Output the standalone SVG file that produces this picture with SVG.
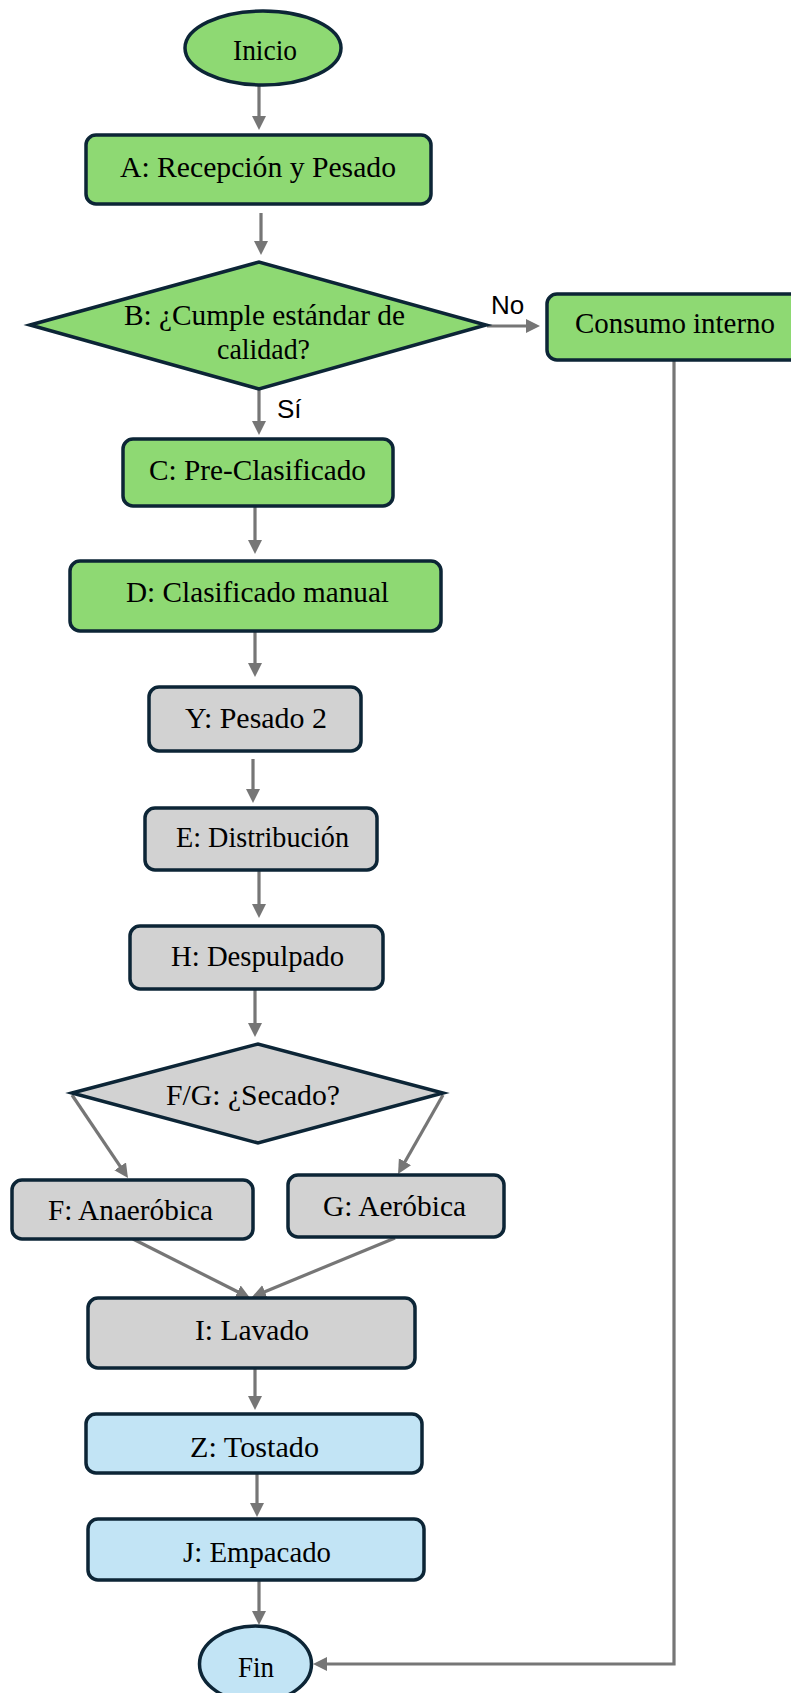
<svg xmlns="http://www.w3.org/2000/svg" width="791" height="1693" viewBox="0 0 791 1693">
<style>
.g{fill:#8ED973;stroke:#0C2536;stroke-width:3.5}
.s{fill:#D2D2D2;stroke:#0C2536;stroke-width:3.5}
.b{fill:#C2E4F5;stroke:#0C2536;stroke-width:3.5}
.t{font-family:"Liberation Serif","Times New Roman",serif;font-size:29px;fill:#000;text-anchor:middle}
.l{font-family:"Liberation Sans",Arial,sans-serif;font-size:26px;fill:#000}
.c{fill:none;stroke:#767676;stroke-width:3.2;marker-end:url(#ah)}
</style>
<defs>
<marker id="ah" markerUnits="userSpaceOnUse" markerWidth="16" markerHeight="16" refX="4" refY="7" orient="auto">
<path d="M0,0 L14,7 L0,14 z" fill="#767676"/>
</marker>
</defs>
<g id="connectors">
<line class="c" x1="259" y1="86" x2="259" y2="120"/>
<line class="c" x1="261" y1="213" x2="261" y2="245"/>
<line class="c" x1="487" y1="326" x2="530" y2="326"/>
<line class="c" x1="259" y1="390" x2="259" y2="425"/>
<line class="c" x1="255" y1="507" x2="255" y2="544"/>
<line class="c" x1="255" y1="632" x2="255" y2="667"/>
<line class="c" x1="253" y1="759" x2="253" y2="793"/>
<line class="c" x1="259" y1="871" x2="259" y2="908"/>
<line class="c" x1="255" y1="990" x2="255" y2="1027"/>
<line class="c" x1="72" y1="1095" x2="122.4" y2="1169.7"/>
<line class="c" x1="443" y1="1095" x2="403" y2="1165.3"/>
<line class="c" x1="133" y1="1239" x2="241.1" y2="1293.5"/>
<line class="c" x1="395" y1="1238" x2="261.2" y2="1293.2"/>
<line class="c" x1="255" y1="1369" x2="255" y2="1400"/>
<line class="c" x1="257" y1="1474" x2="257" y2="1507"/>
<line class="c" x1="259" y1="1581" x2="259" y2="1615"/>
<path class="c" d="M674,361 V1664 H323"/>
<text class="l" x="491" y="314">No</text>
<text class="l" x="277" y="418">Sí</text>
</g>
<g id="inicio">
<ellipse class="g" cx="263" cy="48" rx="78" ry="37"/>
<text class="t" x="265" y="60" textLength="64" lengthAdjust="spacingAndGlyphs">Inicio</text>
</g>
<g id="A">
<rect class="g" x="86" y="135" width="345" height="69" rx="10"/>
<text class="t" x="258" y="177" textLength="276" lengthAdjust="spacingAndGlyphs">A: Recepción y Pesado</text>
</g>
<g id="B">
<polygon class="g" points="30,325 259,262 486,325 259,389"/>
<text class="t" x="264.5" y="325" textLength="281" lengthAdjust="spacingAndGlyphs">B: ¿Cumple estándar de</text>
<text class="t" x="263.5" y="359" textLength="93" lengthAdjust="spacingAndGlyphs">calidad?</text>
</g>
<g id="consumo">
<rect class="g" x="547" y="294" width="260" height="66" rx="10"/>
<text class="t" x="675" y="333" textLength="200" lengthAdjust="spacingAndGlyphs">Consumo interno</text>
</g>
<g id="C">
<rect class="g" x="123" y="439" width="270" height="67" rx="10"/>
<text class="t" x="257.5" y="480" textLength="217" lengthAdjust="spacingAndGlyphs">C: Pre-Clasificado</text>
</g>
<g id="D">
<rect class="g" x="70" y="561" width="371" height="70" rx="10"/>
<text class="t" x="257.5" y="602" textLength="263" lengthAdjust="spacingAndGlyphs">D: Clasificado manual</text>
</g>
<g id="Y">
<rect class="s" x="149" y="687" width="212" height="64" rx="10"/>
<text class="t" x="256" y="728" textLength="142" lengthAdjust="spacingAndGlyphs">Y: Pesado 2</text>
</g>
<g id="E">
<rect class="s" x="145" y="808" width="232" height="62" rx="10"/>
<text class="t" x="262.5" y="847" textLength="173" lengthAdjust="spacingAndGlyphs">E: Distribución</text>
</g>
<g id="H">
<rect class="s" x="130" y="926" width="253" height="63" rx="10"/>
<text class="t" x="257.5" y="966" textLength="173" lengthAdjust="spacingAndGlyphs">H: Despulpado</text>
</g>
<g id="FG">
<polygon class="s" points="72,1093 258,1044 443,1093 258,1143"/>
<text class="t" x="253" y="1105" textLength="174" lengthAdjust="spacingAndGlyphs">F/G: ¿Secado?</text>
</g>
<g id="F">
<rect class="s" x="12" y="1180" width="241" height="59" rx="10"/>
<text class="t" x="130.5" y="1220" textLength="165" lengthAdjust="spacingAndGlyphs">F: Anaeróbica</text>
</g>
<g id="G">
<rect class="s" x="288" y="1175" width="216" height="62" rx="10"/>
<text class="t" x="394.5" y="1216" textLength="143" lengthAdjust="spacingAndGlyphs">G: Aeróbica</text>
</g>
<g id="I">
<rect class="s" x="88" y="1298" width="327" height="70" rx="10"/>
<text class="t" x="252" y="1340" textLength="114" lengthAdjust="spacingAndGlyphs">I: Lavado</text>
</g>
<g id="Z">
<rect class="b" x="86" y="1414" width="336" height="59" rx="10"/>
<text class="t" x="254.5" y="1457" textLength="129" lengthAdjust="spacingAndGlyphs">Z: Tostado</text>
</g>
<g id="J">
<rect class="b" x="88" y="1519" width="336" height="61" rx="10"/>
<text class="t" x="257" y="1562" textLength="148" lengthAdjust="spacingAndGlyphs">J: Empacado</text>
</g>
<g id="fin">
<ellipse class="b" cx="255.5" cy="1664" rx="56" ry="38"/>
<text class="t" x="256" y="1677" textLength="36" lengthAdjust="spacingAndGlyphs">Fin</text>
</g>
</svg>
